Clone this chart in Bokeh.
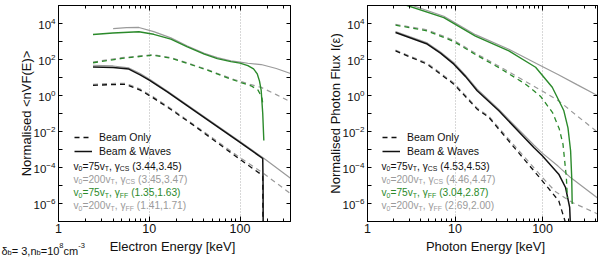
from bokeh.plotting import figure
from bokeh.layouts import row, column
from bokeh.models import (Range1d, FixedTicker, LogAxis, Label, Legend, LegendItem,
                          LogTickFormatter, CustomJSTickFormatter, BasicTickFormatter)
from bokeh.embed import file_html
from bokeh.resources import INLINE

# ---------------- data (keV, normalised values) ----------------
# Electron panel
e_cs75_wave_E = [2.4, 4.0, 5.96, 7.94, 10, 15.8, 31.6, 100, 178, 179.5, 180]
e_cs75_wave_F = [38.9, 36.3, 29.5, 14.1, 7.08, 1.58, 0.141, 2.51e-3, 3.16e-4, 1e-5, 3e-8]
e_cs200_wave_E = [2.4, 4.0, 5.96, 7.94, 10, 15.8, 31.6, 100, 178, 360]
e_cs200_wave_F = [47.9, 43.7, 33.9, 16.6, 8.32, 1.78, 0.158, 2.82e-3, 3.55e-4, 2.51e-5]
e_cs75_beam_E = [2.4, 3.55, 5.48, 7.94, 10.8, 18.2, 31.6, 100, 178, 179]
e_cs75_beam_F = [3.63, 3.98, 4.17, 2.0, 0.794, 0.141, 0.02, 2.82e-4, 3.55e-5, 3e-8]
e_cs200_beam_E = [2.4, 3.55, 5.48, 7.94, 10.8, 18.2, 31.6, 100, 178, 360]
e_cs200_beam_F = [4.17, 4.57, 4.79, 2.29, 0.912, 0.158, 0.0224, 3.55e-4, 5.01e-5, 3.55e-6]
e_ff75_wave_E = [2.4, 3.98, 7.69, 11.2, 17.3, 26.3, 40.4, 56.2, 79.4, 100, 122, 141, 155, 164, 171, 178, 183]
e_ff75_wave_F = [2455, 2951, 3467, 2512, 1349, 501, 200, 112, 75.9, 63.1, 45.7, 30.2, 15.8, 6.31, 2.0, 0.1, 3.16e-3]
e_ff200_wave_E = [4.0, 5.62, 7.69, 11.2, 17.3, 26.3, 40.4, 56.2, 79.4, 100, 122, 171, 251, 360]
e_ff200_wave_F = [5248, 5888, 6026, 3548, 1585, 562, 219, 126, 83.2, 70.8, 61.7, 52.5, 31.6, 16.6]
e_ff75_beam_E = [2.4, 5.01, 10.8, 17.3, 40.4, 79.4, 132, 158, 174, 180]
e_ff75_beam_F = [66.1, 115, 174, 120, 29.5, 8.13, 3.47, 2.0, 0.794, 0.251]
e_ff200_beam_E = [2.4, 5.01, 10.8, 17.3, 40.4, 79.4, 132, 171, 251, 360]
e_ff200_beam_F = [72.4, 126, 186, 129, 31.6, 8.91, 3.98, 2.82, 1.12, 0.447]

# Photon panel
p_cs75_wave_E = [2.09, 4.81, 6.82, 9.69, 13.2, 17.9, 31.7, 79.4, 99.3, 153, 183, 204, 209]
p_cs75_wave_F = [3162, 724, 224, 55.0, 11.2, 1.82, 0.141, 1.29e-3, 4.47e-4, 4.27e-5, 7.76e-6, 6.03e-7, 3.16e-8]
p_cs200_wave_E = [2.09, 4.81, 6.82, 9.69, 13.2, 17.9, 31.7, 56, 79.4, 99.3, 150, 209, 393, 424]
p_cs200_wave_F = [3548, 832, 263, 66.1, 13.2, 2.24, 0.166, 0.01, 1.78e-3, 6.31e-4, 1.2e-4, 2.75e-5, 2.69e-6, 2.0e-6]
p_cs75_beam_E = [2.09, 4.81, 9.69, 17.9, 24.3, 50, 99.3, 153, 180, 186]
p_cs75_beam_F = [302, 55.0, 4.27, 0.174, 0.0617, 9.5e-4, 1.82e-5, 1.41e-6, 1.1e-7, 3e-8]
p_cs200_beam_E = [2.09, 4.81, 9.69, 17.9, 24.3, 50, 99.3, 141, 220, 393, 424]
p_cs200_beam_F = [331, 63.1, 5.01, 0.2, 0.0708, 1.26e-3, 2.82e-5, 4.47e-6, 1.12e-6, 3.16e-7, 2.6e-7]
p_ff75_wave_E = [2.09, 2.84, 7.45, 17.1, 41.2, 83.2, 129, 168, 175, 195, 209, 215, 218]
p_ff75_wave_F = [2.0e5, 1.0e5, 2.14e4, 2000, 302, 37.2, 2.88, 0.214, 0.141, 0.0158, 8.51e-4, 3.16e-5, 9.33e-7]
p_ff200_wave_E = [2.09, 2.84, 7.45, 17.1, 41.2, 85, 150, 250, 393, 424]
p_ff200_wave_F = [2.51e5, 1.26e5, 2.51e4, 2399, 372, 60.3, 14.8, 3.89, 1.2, 0.99]
p_ff75_beam_E = [2.09, 4.81, 9.69, 17.5, 33, 64, 95, 130, 155, 171, 187, 192]
p_ff75_beam_F = [8128, 3890, 1000, 178, 31.6, 4.27, 0.891, 0.112, 0.0141, 2.0e-3, 2.75e-5, 2.0e-6]
p_ff200_beam_E = [2.09, 4.81, 9.69, 17.5, 33, 64, 99.3, 153, 250, 393, 424]
p_ff200_beam_F = [8913, 4467, 1148, 209, 38.0, 6.03, 1.78, 0.5, 0.0708, 0.0126, 8.3e-3]

# ticks and texts
x_major = [1, 10, 100]
x_minor = [2, 3, 4, 5, 6, 7, 8, 9, 20, 30, 40, 50, 60, 70, 80, 90, 200, 300, 400]
y_major = [1e-6, 1e-4, 1e-2, 1, 1e2, 1e4]
y_minor = [1e-7, 1e-5, 1e-3, 1e-1, 1e1, 1e3, 1e5]
grid_x = [10, 100]

row_speed = ["75", "200", "75", "200"]
row_model = ["CS", "CS", "FF", "FF"]
left_fits = ["(3.44,3.45)", "(3.45,3.47)", "(1.35,1.63)", "(1.41,1.71)"]
right_fits = ["(4.53,4.53)", "(4.46,4.47)", "(3.04,2.87)", "(2.69,2.00)"]
legend_labels = ["Beam Only", "Beam & Waves"]
x_titles = ["Electron Energy [keV]", "Photon Energy [keV]"]
y_titles = ["Normalised <nVF(E)>", "Normalised Photon Flux I(ε)"]
note_pieces = [("δ", "n"), ("b", "sub"), ("= 3,n", "n"), ("b", "sub"), ("=10", "n"),
               ("8", "sup"), ("cm", "n"), ("-3", "sup")]

# ---------------- styling ----------------
FONT = "Liberation Sans"
BLACK = "#111111"
GRAY = "#9a9a9a"
GREEN = "#2b8a2b"
row_colors = [BLACK, GRAY, GREEN, GRAY]

ARIAL = {' ': 278, '(': 333, ')': 333, ',': 278, '-': 333, '.': 278, '=': 584,
         '[': 278, ']': 278, '&': 667, 'γ': 500, 'δ': 556}
for d in "0123456789":
    ARIAL[d] = 556
ARIAL.update(dict(A=667, B=667, C=722, D=722, E=667, F=611, S=667, T=611, W=944, O=778, V=667))
ARIAL.update(dict(a=556, b=556, c=500, e=556, g=556, k=500, l=222, m=833, n=556, o=556,
                  r=333, s=500, t=278, v=500, y=500))


def tw(s, fs):
    return sum(ARIAL.get(ch, 556) for ch in s) * fs / 1000.0


FRAME_BOTTOM = 221   # page px of the plot frames' bottom edge
MAIN_H = 239         # height of the two plot figures
STRIP_H = 18         # strip below holding the axis titles / note


def rich(p, pieces, x0, y0, size, color, sub_drop=2.5):
    """pieces: list of (text, kind) kind in n/sub/sup; x0,y0 frame-screen coords (baseline)."""
    x = x0
    for txt, kind in pieces:
        fs = size if kind == "n" else size * 0.68
        dy = 0 if kind == "n" else (-sub_drop if kind == "sub" else size * 0.42)
        lead = len(txt) - len(txt.lstrip(" "))
        x += tw(" " * lead, fs)
        t = txt.lstrip(" ")
        p.add_layout(Label(x=x, y=y0 + dy, x_units="screen", y_units="screen", text=t,
                           text_font=FONT, text_font_size=f"{fs:.1f}px", text_color=color,
                           text_baseline="alphabetic", text_align="left"))
        x += tw(t, fs)


def make_fig(width, border_left, border_right, xmax, ylabel, ylab_standoff):
    p = figure(width=width, height=MAIN_H, x_axis_type="log", y_axis_type="log",
               x_range=Range1d(1, xmax), y_range=Range1d(1e-7, 1e5),
               output_backend="svg", toolbar_location=None,
               min_border_left=border_left, min_border_right=border_right,
               min_border_top=5, min_border_bottom=MAIN_H - FRAME_BOTTOM)
    p.outline_line_color = "black"
    p.outline_line_width = 1
    p.background_fill_color = "white"
    p.border_fill_color = "white"

    xa = p.xaxis[0]
    xa.ticker = FixedTicker(ticks=x_major, minor_ticks=x_minor)
    xa.formatter = BasicTickFormatter()
    xa.major_tick_in = 5
    xa.major_tick_out = 0
    xa.minor_tick_in = 3
    xa.minor_tick_out = 0
    xa.major_label_standoff = 2
    xa.major_label_text_font_size = "12.5px"

    ya = p.yaxis[0]
    ya.ticker = FixedTicker(ticks=y_major, minor_ticks=y_minor)
    ya.formatter = LogTickFormatter()
    ya.major_tick_in = 4
    ya.major_tick_out = 0
    ya.minor_tick_in = 4
    ya.minor_tick_out = 0
    ya.major_label_standoff = 3
    ya.major_label_text_font_size = "11.5px"
    ya.axis_label = ylabel
    ya.axis_label_standoff = ylab_standoff
    ya.axis_label_text_font = FONT
    ya.axis_label_text_font_size = "13px"
    ya.axis_label_text_font_style = "normal"
    ya.axis_label_text_color = BLACK

    for ax in (xa, ya):
        ax.axis_line_color = "black"
        ax.major_tick_line_color = "black"
        ax.minor_tick_line_color = "black"
        ax.major_label_text_font = FONT
        ax.major_label_text_color = BLACK

    blank = CustomJSTickFormatter(code="return ''")
    top = LogAxis(ticker=FixedTicker(ticks=x_major, minor_ticks=x_minor), formatter=blank,
                  major_tick_in=5, major_tick_out=0, minor_tick_in=3, minor_tick_out=0,
                  major_label_standoff=0, major_label_text_font_size="1px",
                  axis_line_color="black")
    right = LogAxis(ticker=FixedTicker(ticks=y_major, minor_ticks=y_minor), formatter=blank,
                    major_tick_in=4, major_tick_out=0, minor_tick_in=4, minor_tick_out=0,
                    major_label_standoff=0, major_label_text_font_size="1px",
                    axis_line_color="black")
    p.add_layout(top, "above")
    p.add_layout(right, "right")

    p.xgrid.ticker = FixedTicker(ticks=grid_x)
    p.xgrid.grid_line_color = "#b0b0b0"
    p.xgrid.grid_line_dash = "1 2"
    p.ygrid.visible = False
    return p


def draw_panel(p, curves, fits, legend_x):
    rends = {}
    for key, (E, F, color, dash, width) in curves.items():
        r = p.line(E, F, line_color=color, line_dash=dash, line_width=width)
        rends[key] = r
    legend = Legend(items=[LegendItem(label=legend_labels[0], renderers=[rends["cs75_beam"]]),
                           LegendItem(label=legend_labels[1], renderers=[rends["cs75_wave"]])],
                    location=(legend_x, FRAME_BOTTOM - 156.7), padding=0, spacing=2, margin=0,
                    glyph_width=18, glyph_height=12, label_height=12, label_standoff=7,
                    label_text_font=FONT, label_text_font_size="10.5px", label_text_color=BLACK,
                    border_line_alpha=0, background_fill_alpha=0)
    p.add_layout(legend)
    base0 = 165.5
    for i in range(4):
        y = FRAME_BOTTOM - (base0 + 13.3 * i)
        pieces = [("v", "n"), ("0", "sub"), ("=" + row_speed[i] + "v", "n"), ("T", "sub"),
                  (", γ", "n"), (row_model[i], "sub"), (" " + fits[i], "n")]
        rich(p, pieces, legend_x - 1, y, 10.2, row_colors[i])


p1 = make_fig(300, 58, 10, 360, y_titles[0], -3)
curves1 = {
    "cs200_wave": (e_cs200_wave_E, e_cs200_wave_F, GRAY, "solid", 1.2),
    "cs200_beam": (e_cs200_beam_E, e_cs200_beam_F, GRAY, "5 4", 1.2),
    "ff200_wave": (e_ff200_wave_E, e_ff200_wave_F, GRAY, "solid", 1.2),
    "ff200_beam": (e_ff200_beam_E, e_ff200_beam_F, GRAY, "5 4", 1.2),
    "cs75_wave": (e_cs75_wave_E, e_cs75_wave_F, BLACK, "solid", 1.5),
    "cs75_beam": (e_cs75_beam_E, e_cs75_beam_F, BLACK, "5 4", 1.3),
    "ff75_wave": (e_ff75_wave_E, e_ff75_wave_F, GREEN, "solid", 1.4),
    "ff75_beam": (e_ff75_beam_E, e_ff75_beam_F, GREEN, "5 4", 1.3),
}
draw_panel(p1, curves1, left_fits, 16)

p2 = make_fig(300, 67, 3, 424, y_titles[1], -3)
curves2 = {
    "cs200_wave": (p_cs200_wave_E, p_cs200_wave_F, GRAY, "solid", 1.2),
    "cs200_beam": (p_cs200_beam_E, p_cs200_beam_F, GRAY, "5 4", 1.2),
    "ff200_wave": (p_ff200_wave_E, p_ff200_wave_F, GRAY, "solid", 1.2),
    "ff200_beam": (p_ff200_beam_E, p_ff200_beam_F, GRAY, "5 4", 1.2),
    "cs75_wave": (p_cs75_wave_E, p_cs75_wave_F, BLACK, "solid", 1.5),
    "cs75_beam": (p_cs75_beam_E, p_cs75_beam_F, BLACK, "5 4", 1.3),
    "ff75_wave": (p_ff75_wave_E, p_ff75_wave_F, GREEN, "solid", 1.4),
    "ff75_beam": (p_ff75_beam_E, p_ff75_beam_F, GREEN, "5 4", 1.3),
}
draw_panel(p2, curves2, right_fits, 15)

# strip under the plots: x-axis titles and the parameter note
strip = figure(width=600, height=STRIP_H, x_range=Range1d(0, 600), y_range=Range1d(0, STRIP_H),
               x_axis_location=None, y_axis_location=None, output_backend="svg",
               toolbar_location=None, min_border=0)
strip.outline_line_color = None
strip.grid.visible = False
strip.background_fill_color = "white"
strip.border_fill_color = "white"
for cx, title in zip([172, 485], x_titles):
    strip.add_layout(Label(x=cx, y=STRIP_H - 7, x_units="screen", y_units="screen", text=title,
                           text_align="center", text_baseline="middle", text_font=FONT,
                           text_font_size="13px", text_color=BLACK))
rich(strip, note_pieces, 1, STRIP_H - 11, 11, BLACK, sub_drop=1.6)

layout = column(row(p1, p2), strip)
open("out.html", "w").write(file_html(layout, INLINE))
